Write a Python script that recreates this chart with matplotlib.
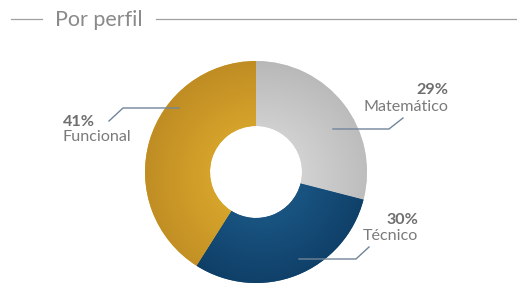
import numpy as np
import matplotlib
matplotlib.use('Agg')
from matplotlib import pyplot as plt
from matplotlib.colors import LinearSegmentedColormap

title = 'Por perfil'
labels = ['Matemático', 'Técnico', 'Funcional']
values = [29, 30, 41]
pct_text = ['29%', '30%', '41%']
inner_cols = ['#d4d4d4', '#1a5684', '#daa82c']
outer_cols = ['#b8b8b8', '#0d3b62', '#c08d24']

plt.rcParams['font.family'] = ['Lato', 'DejaVu Sans']

W, H = 517, 284
fig = plt.figure(figsize=(W/100, H/100), dpi=100)

# pie axes, centre (256,172) px, radius 111 px
cx, cy, R = 256, 172, 111
ax = fig.add_axes([(cx-R)/W, (H-cy-R)/H, 2*R/W, 2*R/H])
wedges, _ = ax.pie(values, startangle=90, counterclock=False, radius=1,
                   colors=inner_cols, wedgeprops=dict(width=1-46/111, linewidth=0))
ax.set_xlim(-1, 1); ax.set_ylim(-1, 1)
ax.set_aspect('equal')
ax.axis('off')

xx, yy = np.meshgrid(np.linspace(-1, 1, 400), np.linspace(-1, 1, 400))
rr = np.sqrt(xx**2 + yy**2)
shade = np.clip((rr - 0.4) / 0.6, 0, 1) * 0.8 + np.clip((-xx + yy) * 0.1 + 0.1, 0, 0.2)
for w, c1, c2 in zip(wedges, inner_cols, outer_cols):
    cm = LinearSegmentedColormap.from_list('g', [c1, c2])
    im = ax.imshow(shade, cmap=cm, vmin=0, vmax=1, extent=[-1, 1, -1, 1], origin='lower',
                   interpolation='bilinear', zorder=2)
    im.set_clip_path(w)

# overlay in pixel coords
ov = fig.add_axes([0, 0, 1, 1])
ov.set_xlim(0, W); ov.set_ylim(H, 0)
ov.axis('off')
ov.patch.set_alpha(0)

ov.text(55, 26, title, fontsize=15.5, color='#8a8a8a', va='baseline', ha='left')
ov.plot([11, 42], [19, 19], color='#a0a0a0', lw=0.9)
ov.plot([156, 517], [19, 19], color='#a0a0a0', lw=0.9)

lc = '#71859a'
fs = 11.6
# Funcional
ov.plot([109, 123, 179], [121, 108, 108], color=lc, lw=1)
ov.text(63, 126, pct_text[2], fontsize=fs, fontweight='bold', color='#6e6e6e', va='baseline', ha='left')
ov.text(63, 141, labels[2], fontsize=fs, color='#7a7a7a', va='baseline', ha='left')
# Matemático
ov.plot([403, 389, 333], [118, 129, 129], color=lc, lw=1)
ov.text(448, 94, pct_text[0], fontsize=fs, fontweight='bold', color='#6e6e6e', va='baseline', ha='right')
ov.text(448, 111, labels[0], fontsize=fs, color='#7a7a7a', va='baseline', ha='right')
# Técnico
ov.plot([369, 356, 299], [247, 259, 259], color=lc, lw=1)
ov.text(418, 224, pct_text[1], fontsize=fs, fontweight='bold', color='#6e6e6e', va='baseline', ha='right')
ov.text(418, 240, labels[1], fontsize=fs, color='#7a7a7a', va='baseline', ha='right')

fig.savefig('out.png', dpi=100)
